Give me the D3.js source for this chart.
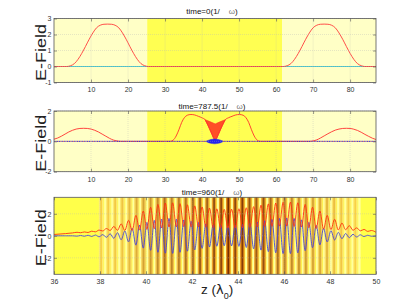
<!DOCTYPE html>
<html>
<head>
<meta charset="utf-8">
<script src="https://cdn.jsdelivr.net/npm/d3@7"></script>
<style>
  body { margin: 0; background: #fff; }
  text { font-family: "Liberation Sans Narrow", "Liberation Sans", Arial, sans-serif; }
</style>
</head>
<body>
<div id="chart"></div>
<script>
// ---- data ----
const regionZ = [25.2, 61.6];              // bright (high index) slab, panels 1-2

const xTicksAB = [10, 20, 30, 40, 50, 60, 70, 80];
const yTicks1 = [-1, 0, 1, 2, 3];
const yTicks2 = [-2, 0, 2];
const xTicks3 = [36, 38, 40, 42, 44, 46, 48, 50];
const yTicks3 = [-2, 0, 2];

const titles = ["time=0(1/", "time=787.5(1/", "time=960(1/"];

// panel 1 : red pulse (two copies), blue flat
const p1RedZ = [0, 3.5, 4.5, 5.5, 6.5, 7.5, 8.5, 9.5, 10.5, 11.5, 12.5, 13.5, 14.5, 15.5, 16.5, 17.5, 18.5, 19.5, 20.5, 21.5, 22.5, 23.5, 24.5, 25.5,
  62, 63, 64, 65, 66, 67, 68, 69, 70, 71, 72, 73, 74, 75, 76, 77, 78, 79, 80, 81, 82, 83, 84, 87];
const p1RedE = [0, 0, 0.05, 0.18, 0.45, 0.82, 1.25, 1.7, 2.1, 2.42, 2.58, 2.64, 2.65, 2.64, 2.58, 2.42, 2.1, 1.7, 1.25, 0.82, 0.45, 0.18, 0.05, 0,
  0, 0.05, 0.18, 0.45, 0.82, 1.25, 1.7, 2.1, 2.42, 2.58, 2.64, 2.65, 2.64, 2.58, 2.42, 2.1, 1.7, 1.25, 0.82, 0.45, 0.18, 0.05, 0, 0];
const p1BlueZ = [0, 87];
const p1BlueE = [0, 0];

// panel 2
const p2RedZ = [0, 1, 2, 3, 4, 5, 6, 7, 8, 9, 10, 11, 12, 13, 14, 15, 16, 17, 18,
  31.4, 32.2, 33, 33.8, 34.5, 35.2, 36, 37, 38, 39, 40, 40.8, 41.6, 42.4, 43.0, 43.55, 44.1, 44.7, 45.5, 46.3, 47.1, 48.1, 49.1, 50.1, 51.1, 51.9, 52.6, 53.3, 54.1, 54.9, 55.7,
  69, 70, 71, 72, 73, 74, 75, 76, 77, 78, 79, 80, 81, 82, 83, 84, 85, 86, 87];
const p2RedE = [0.14, 0.22, 0.34, 0.48, 0.62, 0.73, 0.81, 0.85, 0.86, 0.85, 0.81, 0.73, 0.62, 0.48, 0.34, 0.2, 0.09, 0.03, 0,
  0, 0.08, 0.35, 0.8, 1.25, 1.55, 1.72, 1.77, 1.74, 1.65, 1.55, 1.43, 1.05, 0.62, 0.28, 0.04, 0.28, 0.62, 1.05, 1.43, 1.55, 1.65, 1.74, 1.77, 1.72, 1.55, 1.25, 0.8, 0.35, 0.08, 0,
  0, 0.03, 0.1, 0.22, 0.36, 0.5, 0.63, 0.74, 0.81, 0.85, 0.86, 0.85, 0.8, 0.72, 0.6, 0.46, 0.33, 0.21, 0.12];
// fast-oscillation fills around the centre
const p2FunnelZ = [40.8, 41.6, 42.4, 43.0, 43.55, 44.1, 44.7, 45.5, 46.3, 45.0, 43.55, 42.1];
const p2FunnelE = [1.43, 1.05, 0.62, 0.28, 0.04, 0.28, 0.62, 1.05, 1.43, 1.3, 1.15, 1.3];
const p2BlobZ = [41.1, 41.6, 42.4, 43.4, 44.4, 45.2, 45.7, 45.2, 44.4, 43.4, 42.4, 41.6];
const p2BlobE = [0, 0.06, 0.12, 0.15, 0.12, 0.06, 0, -0.07, -0.13, -0.16, -0.13, -0.07];

// panel 3 : extrema of the oscillating fields
const p3Z = [36.0, 36.5, 36.8,
  37.00, 37.16, 37.32, 37.48, 37.64, 37.80, 37.96, 38.12, 38.28, 38.44, 38.60, 38.76, 38.92, 39.08, 39.24, 39.40, 39.56, 39.72, 39.88,
  40.04, 40.20, 40.36, 40.52, 40.68, 40.84, 41.00, 41.16, 41.32, 41.48, 41.64, 41.80, 41.96, 42.12, 42.28, 42.44, 42.60, 42.76, 42.92,
  43.08, 43.24, 43.40, 43.56, 43.72, 43.88, 44.04, 44.20, 44.36, 44.52, 44.68, 44.84, 45.00, 45.16, 45.32, 45.48, 45.64, 45.80, 45.96,
  46.12, 46.28, 46.44, 46.60, 46.76, 46.92, 47.08, 47.24, 47.40, 47.56, 47.72, 47.88, 48.04, 48.20, 48.36, 48.52, 48.68, 48.84, 49.00,
  49.16, 49.32, 49.48, 49.64, 49.80, 50.0];
const p3Red = [0.12, 0.2, 0.26,
  0.32, 0.28, 0.35, 0.30, 0.42, 0.36, 0.52, 0.44, 0.66, 0.48, 0.85, 0.50, 1.08, 0.48, 1.40, 0.48, 1.85, 0.52, 2.25,
  0.58, 2.60, 0.65, 2.85, 0.72, 2.98, 0.80, 3.00, 0.82, 2.92, 0.84, 2.82, 0.82, 2.72, 0.80, 2.62, 0.78, 2.52, 0.74,
  2.45, 0.72, 2.40, 0.70, 2.42, 0.72, 2.46, 0.74, 2.55, 0.77, 2.65, 0.80, 2.78, 0.84, 2.90, 0.86, 2.98, 0.88, 3.04,
  0.88, 3.06, 0.85, 3.00, 0.80, 2.85, 0.74, 2.60, 0.66, 2.25, 0.60, 1.85, 0.56, 1.50, 0.53, 1.15, 0.55, 0.92, 0.50,
  0.72, 0.45, 0.58, 0.40, 0.48, 0.32];
const p3Blue = [0, 0, 0,
  -0.03, 0.03, -0.04, 0.05, -0.06, 0.07, -0.09, 0.11, -0.14, 0.18, -0.23, 0.28, -0.36, 0.44, -0.55, 0.68, -0.85, 0.98, -1.12,
  1.22, -1.32, 1.40, -1.50, 1.52, -1.58, 1.58, -1.60, 1.52, -1.50, 1.44, -1.40, 1.32, -1.28, 1.20, -1.14, 1.08, -1.02, 0.98,
  -0.95, 0.92, -0.90, 0.90, -0.92, 0.94, -0.96, 1.02, -1.06, 1.12, -1.18, 1.24, -1.30, 1.36, -1.44, 1.48, -1.54, 1.58, -1.62,
  1.62, -1.62, 1.58, -1.55, 1.45, -1.35, 1.22, -1.08, 0.95, -0.82, 0.68, -0.56, 0.46, -0.38, 0.31, -0.26, 0.21, -0.17, 0.14,
  -0.11, 0.09, -0.07, 0.05, -0.04, 0];

// panel 3 : layered medium (stripe centre, darkness 0..1)
const stripeZ = [38.05, 38.36, 38.66, 38.97, 39.28, 39.59, 39.89, 40.20, 40.51, 40.81, 41.12, 41.43, 41.73, 42.04, 42.35, 42.66, 42.96,
  43.27, 43.58, 43.88, 44.19, 44.50, 44.80, 45.11, 45.42, 45.73, 46.03, 46.34, 46.65, 46.95, 47.26, 47.57, 47.87, 48.18, 48.49, 48.80, 49.10];
const stripeShade = [0.05, 0.07, 0.09, 0.12, 0.18, 0.25, 0.32, 0.38, 0.45, 0.62, 0.48, 0.52, 0.58, 0.62, 0.72, 0.68, 0.78,
  0.85, 1.0, 0.85, 0.92, 0.78, 0.72, 0.8, 0.65, 0.6, 0.52, 0.45, 0.4, 0.34, 0.3, 0.26, 0.2, 0.15, 0.1, 0.07, 0.05];

// ---- layout ----
const W = 415, H = 305;
const left = 54, right = 376;
const panels = [
  { top: 18.5, bottom: 82.5, xDom: [0, 87], yDom: [-1, 3], xTicks: xTicksAB, yTicks: yTicks1 },
  { top: 111, bottom: 171.7, xDom: [0, 87], yDom: [-2, 2], xTicks: xTicksAB, yTicks: yTicks2 },
  { top: 197.3, bottom: 274.3, xDom: [36, 50], yDom: [-3.5, 3.5], xTicks: xTicks3, yTicks: yTicks3 }
];
const titleY = [14, 108.5, 195];

const svg = d3.select("#chart").append("svg")
  .attr("width", W).attr("height", H);

const pts = (zs, es) => zs.map((z, i) => [z, es[i]]);

panels.forEach((p, k) => {
  p.x = d3.scaleLinear().domain(p.xDom).range([left, right]);
  p.y = d3.scaleLinear().domain(p.yDom).range([p.bottom, p.top]);
  const g = svg.append("g");
  const clipId = "clip" + k;
  svg.append("clipPath").attr("id", clipId).append("rect")
    .attr("x", left).attr("y", p.top).attr("width", right - left).attr("height", p.bottom - p.top);
  p.g = g;
  p.plot = g.append("g").attr("clip-path", "url(#" + clipId + ")");
});

// backgrounds
[0, 1].forEach(k => {
  const p = panels[k];
  p.plot.append("rect").attr("x", left).attr("y", p.top)
    .attr("width", right - left).attr("height", p.bottom - p.top).attr("fill", "#ffffc6");
  p.plot.append("rect").attr("x", p.x(regionZ[0])).attr("y", p.top)
    .attr("width", p.x(regionZ[1]) - p.x(regionZ[0])).attr("height", p.bottom - p.top).attr("fill", "#ffff52");
});
{
  const p = panels[2];
  p.plot.append("rect").attr("x", left).attr("y", p.top)
    .attr("width", right - left).attr("height", p.bottom - p.top).attr("fill", "#ffff4a");
  const halo = d3.interpolateRgb("#fff27a", "#e88a14");
  const core = d3.interpolateRgb("#ffd84a", "#7a2e00");
  const stripes = stripeZ.map((z, i) => ({ z: z, s: stripeShade[i] }));
  // pale band between stripes
  p.plot.selectAll(".pale").data(stripes).enter().append("rect")
    .attr("x", d => p.x(d.z + 0.13)).attr("y", p.top)
    .attr("width", p.x(36.1) - p.x(36)).attr("height", p.bottom - p.top)
    .attr("fill", "#ffffa0");
  p.plot.selectAll(".halo").data(stripes).enter().append("rect")
    .attr("x", d => p.x(d.z - 0.1)).attr("y", p.top)
    .attr("width", p.x(36.2) - p.x(36)).attr("height", p.bottom - p.top)
    .attr("fill", d => halo(d.s));
  p.plot.selectAll(".core").data(stripes).enter().append("rect")
    .attr("x", d => p.x(d.z - 0.04)).attr("y", p.top)
    .attr("width", p.x(36.08) - p.x(36)).attr("height", p.bottom - p.top)
    .attr("fill", d => core(d.s));
}

// grid + axes
panels.forEach((p, k) => {
  const grid = p.g.append("g").attr("stroke", "#b8b8b8").attr("stroke-width", 0.5)
    .attr("stroke-dasharray", "1,1").attr("opacity", 0.7);
  grid.selectAll(".gx").data(p.xTicks).enter().append("line")
    .attr("x1", d => p.x(d)).attr("x2", d => p.x(d)).attr("y1", p.top).attr("y2", p.bottom);
  grid.selectAll(".gy").data(p.yTicks).enter().append("line")
    .attr("x1", left).attr("x2", right).attr("y1", d => p.y(d)).attr("y2", d => p.y(d));
});

const line = (p) => d3.line().x(d => p.x(d[0])).y(d => p.y(d[1]));

// panel 1 curves
{
  const p = panels[0];
  p.plot.append("path").datum(pts(p1BlueZ, p1BlueE)).attr("d", line(p))
    .attr("fill", "none").attr("stroke", "#45c4cc").attr("stroke-width", 1);
  p.plot.append("path").datum(pts(p1RedZ, p1RedE)).attr("d", line(p).curve(d3.curveMonotoneX))
    .attr("fill", "none").attr("stroke", "#ff3b3b").attr("stroke-width", 0.9);
}
// panel 2 curves
{
  const p = panels[1];
  p.plot.append("path").datum(pts(p2FunnelZ, p2FunnelE)).attr("d", line(p).curve(d3.curveLinearClosed))
    .attr("fill", "#ff3020").attr("fill-opacity", 0.85).attr("stroke", "#ff3020").attr("stroke-width", 0.6);
  p.plot.append("path").datum(pts(p2RedZ, p2RedE)).attr("d", line(p).curve(d3.curveMonotoneX))
    .attr("fill", "none").attr("stroke", "#ff3030").attr("stroke-width", 0.9);
  p.plot.append("line").attr("x1", left).attr("x2", right).attr("y1", p.y(0)).attr("y2", p.y(0))
    .attr("stroke", "#2a2ae0").attr("stroke-width", 1).attr("stroke-dasharray", "1.5,1");
  p.plot.append("line").attr("x1", left + 1.5).attr("x2", right).attr("y1", p.y(0)).attr("y2", p.y(0))
    .attr("stroke", "#e03030").attr("stroke-width", 0.8).attr("stroke-dasharray", "1,1.5");
  p.plot.append("path").datum(pts(p2BlobZ, p2BlobE)).attr("d", line(p).curve(d3.curveCardinalClosed))
    .attr("fill", "#2424f0").attr("stroke", "#2424f0").attr("stroke-width", 0.5);
}
// panel 3 curves
{
  const p = panels[2];
  p.plot.append("path").datum(pts(p3Z, p3Blue)).attr("d", line(p).curve(d3.curveMonotoneX))
    .attr("fill", "none").attr("stroke", "#4646d6").attr("stroke-width", 0.9);
  p.plot.append("path").datum(pts(p3Z, p3Red)).attr("d", line(p).curve(d3.curveMonotoneX))
    .attr("fill", "none").attr("stroke", "#ff3210").attr("stroke-width", 0.9);
}

// frames, ticks, labels
panels.forEach((p, k) => {
  const g = p.g;
  const ax = g.append("g").attr("class", "axes");
  ax.append("g").attr("transform", "translate(0," + p.bottom + ")")
    .call(d3.axisBottom(p.x).tickValues(p.xTicks).tickSizeInner(-3).tickSizeOuter(0).tickPadding(5).tickFormat(d => String(d)));
  ax.append("g").attr("transform", "translate(0," + p.top + ")")
    .call(d3.axisTop(p.x).tickValues(p.xTicks).tickSizeInner(-3).tickSizeOuter(0).tickFormat(""));
  ax.append("g").attr("transform", "translate(" + left + ",0)")
    .call(d3.axisLeft(p.y).tickValues(p.yTicks).tickSizeInner(-3).tickSizeOuter(0).tickPadding(2.5).tickFormat(d => String(d)));
  ax.append("g").attr("transform", "translate(" + right + ",0)")
    .call(d3.axisRight(p.y).tickValues(p.yTicks).tickSizeInner(-3).tickSizeOuter(0).tickFormat(""));
  ax.selectAll(".domain").remove();
  ax.selectAll(".tick line").attr("stroke", "#555").attr("stroke-width", 0.6);
  ax.selectAll("text").attr("font-size", 7).attr("fill", "#333")
    .style("font-family", "'Liberation Sans Narrow', Arial, sans-serif");
  g.append("rect").attr("x", left).attr("y", p.top).attr("width", right - left).attr("height", p.bottom - p.top)
    .attr("fill", "none").attr("stroke", "#555").attr("stroke-width", 0.8);

  // y label
  g.append("text")
    .attr("transform", "translate(45.5," + ((p.top + p.bottom) / 2 + 2) + ") rotate(-90)")
    .attr("text-anchor", "middle").attr("font-size", 15).attr("fill", "#222")
    .attr("textLength", 57).attr("lengthAdjust", "spacingAndGlyphs")
    .style("font-family", "'Liberation Sans', Arial, sans-serif")
    .text("E-Field");

  // title
  const t = svg.append("text").attr("x", 212).attr("y", titleY[k]).attr("text-anchor", "middle")
    .attr("font-size", 8).attr("fill", "#111");
  t.append("tspan").text(titles[k]);
  t.append("tspan").attr("dx", 9).attr("fill", "#777").text("ω");
  t.append("tspan").text(")");
});

// x label
{
  const t = svg.append("text").attr("x", 201).attr("y", 294).attr("font-size", 13.5).attr("fill", "#222")
    .style("font-family", "'Liberation Sans', Arial, sans-serif");
  t.append("tspan").text("z (");
  t.append("tspan").style("font-family", "'DejaVu Sans', sans-serif").attr("font-size", 13).text("λ");
  t.append("tspan").attr("font-size", 9).attr("dy", 4.5).text("0");
  t.append("tspan").attr("dy", -4.5).text(")");
}
</script>
</body>
</html>
